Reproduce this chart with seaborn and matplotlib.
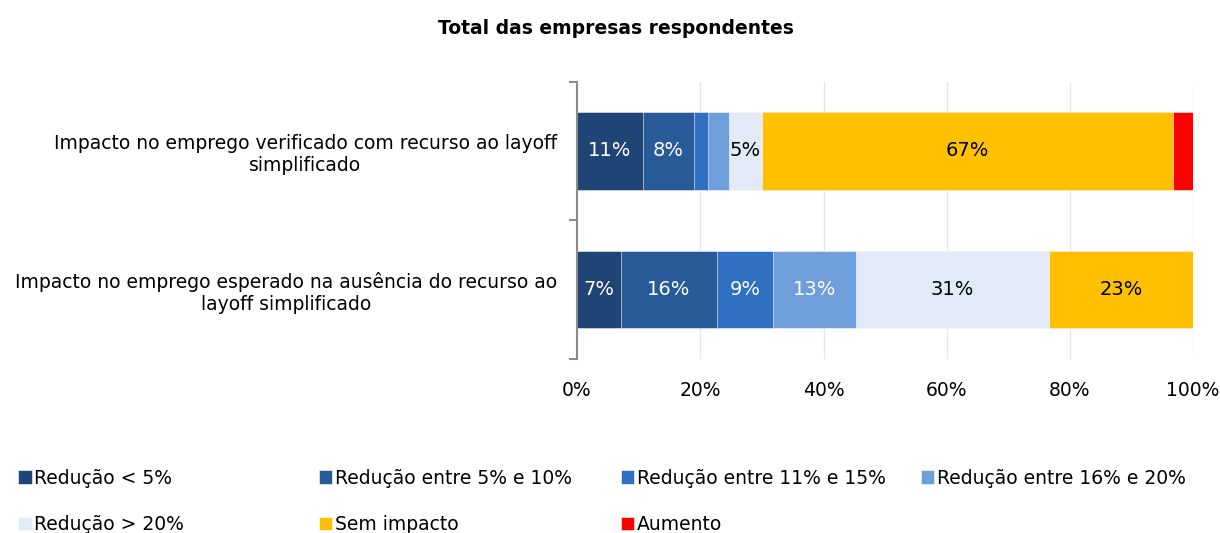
import numpy as np
import pandas as pd
import matplotlib
matplotlib.use("Agg")
import matplotlib.pyplot as plt
import seaborn as sns

# Data (% of respondent firms)
categories = ["Impacto no emprego verificado com recurso ao layoff\nsimplificado",
              "Impacto no emprego esperado na ausência do recurso ao\nlayoff simplificado"]
series = ["Redução < 5%", "Redução entre 5% e 10%", "Redução entre 11% e 15%",
          "Redução entre 16% e 20%", "Redução > 20%", "Sem impacto", "Aumento"]
verificado = [10.7, 8.3, 2.2, 3.4, 5.4, 66.8, 3.2]
esperado = [7.1, 15.6, 9.1, 13.4, 31.4, 23.4, 0.0]
colors = ["#1f4476", "#285a97", "#3070c3", "#6e9fdb", "#e2e9f7", "#ffc000", "#ff0000"]
text_colors = ["white", "white", "white", "white", "black", "black", "black"]

values = np.array([verificado, esperado])
cum = values.cumsum(axis=1)
df = pd.DataFrame(cum, columns=series)
df["categoria"] = categories

sns.set_style("white")
plt.rcParams["font.family"] = ["DejaVu Sans"]
plt.rcParams["text.color"] = "black"
plt.rcParams["xtick.color"] = "black"
plt.rcParams["ytick.color"] = "black"

FS = 13.5

fig = plt.figure(figsize=(12.2, 5.33), dpi=100)
ax = fig.add_axes([0.473, 0.327, 0.505, 0.52])

# stacked bars: draw cumulative totals from the last segment backwards
for i in reversed(range(len(series))):
    sns.barplot(data=df, x=series[i], y="categoria", orient="h", color=colors[i],
                saturation=1, width=0.56, label=series[i], ax=ax, zorder=2,
                edgecolor="white", linewidth=0.4)

h, l = ax.get_legend_handles_labels()
lookup = dict(zip(l, h))
if ax.get_legend() is not None:
    ax.get_legend().remove()

# labels inside segments
for r in range(len(categories)):
    left = 0
    for i, v in enumerate(values[r]):
        if v >= 5:
            ax.text(left + v / 2, r, f"{v:.0f}%", ha="center", va="center",
                    fontsize=14, color=text_colors[i], zorder=3)
        left += v

ax.set_xlim(0, 100)
ax.set_ylim(1.5, -0.5)
ax.set_xticks(np.arange(0, 101, 20))
ax.set_xticklabels([f"{t}%" for t in range(0, 101, 20)], fontsize=FS)
ax.set_xlabel("")
ax.set_ylabel("")
ax.grid(axis="x", color="#e6e6e6", linewidth=1, zorder=0)
ax.set_axisbelow(True)
ax.tick_params(axis="x", length=0, pad=16)

ax.set_yticks([0, 1])
ax.set_yticklabels(categories, fontsize=FS, multialignment="center")
ax.tick_params(axis="y", which="major", length=0, pad=14.5)
ax.set_yticks([-0.5, 0.5, 1.5], minor=True)
ax.tick_params(axis="y", which="minor", left=True, length=6, width=1.5,
               color="#8c8c8c", direction="out")

for s in ["top", "right", "bottom"]:
    ax.spines[s].set_visible(False)
ax.spines["left"].set_color("#8c8c8c")
ax.spines["left"].set_linewidth(1.5)

fig.suptitle("Total das empresas respondentes", fontsize=FS, fontweight="bold",
             x=0.505, y=0.965)

# legend laid out as 4 columns of 2 rows
columns = [["Redução < 5%", "Redução > 20%"],
           ["Redução entre 5% e 10%", "Sem impacto"],
           ["Redução entre 11% e 15%", "Aumento"],
           ["Redução entre 16% e 20%"]]
col_x = [0.009, 0.255, 0.503, 0.749]
for cx, names in zip(col_x, columns):
    fig.legend([lookup[n] for n in names], names, loc="upper left",
               bbox_to_anchor=(cx, 0.135), frameon=False, fontsize=FS,
               handlelength=0.7, handleheight=0.7, handletextpad=0.15,
               labelspacing=1.45, borderaxespad=0)

fig.savefig("out.png", dpi=100)
